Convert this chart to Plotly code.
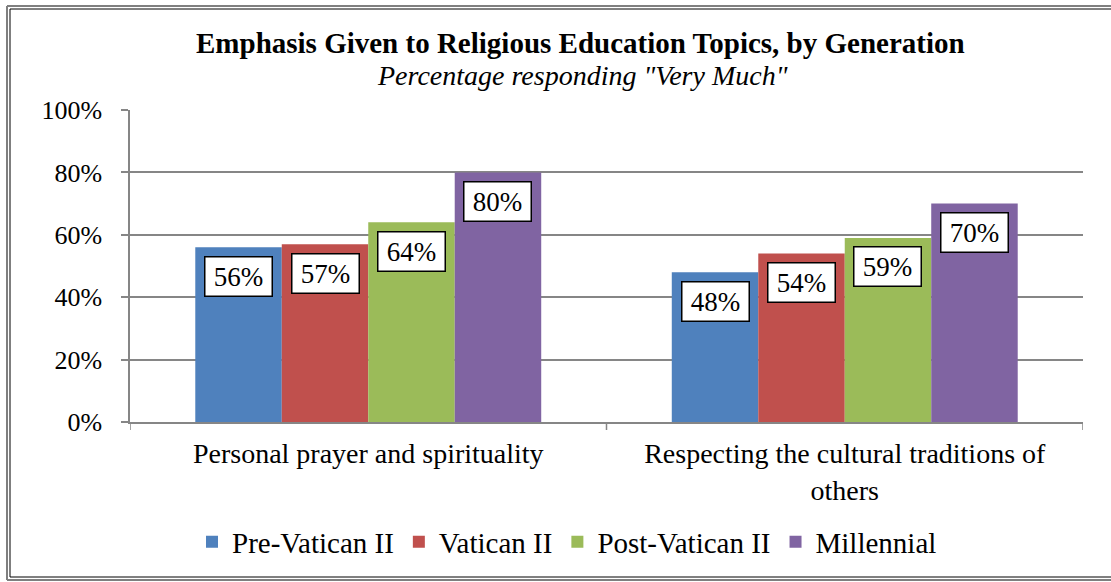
import plotly.graph_objects as go

categories = ["Personal prayer and spirituality", "Respecting the cultural traditions of<br>others"]
series_names = ["Pre-Vatican II", "Vatican II", "Post-Vatican II", "Millennial"]
values = {
    "Pre-Vatican II": [56, 48],
    "Vatican II": [57, 54],
    "Post-Vatican II": [64, 59],
    "Millennial": [80, 70],
}
colors = ["#4F81BD", "#C0504D", "#9BBB59", "#8064A2"]
y_ticks = [0, 20, 40, 60, 80, 100]
y_tick_labels = ["0%", "20%", "40%", "60%", "80%", "100%"]

FONT = "Liberation Serif, Times New Roman, serif"
W, H = 1111, 582
ML, MR, MT, MB = 130, 28, 110, 160
BARGAP = 0.274

fig = go.Figure()
for name, col in zip(series_names, colors):
    fig.add_trace(go.Bar(name=name, x=list(range(len(categories))), y=values[name],
                         marker=dict(color=col, line=dict(width=0))))

# data labels in white boxes
n = len(series_names)
bw = (1 - BARGAP) / n
for i, name in enumerate(series_names):
    for j, v in enumerate(values[name]):
        fig.add_annotation(x=j + (i - (n - 1) / 2) * bw, y=v, xref="x", yref="y",
                           text=f"{v}%", showarrow=False, yanchor="middle", yshift=-29,
                           bgcolor="white", bordercolor="black", borderwidth=1.5,
                           borderpad=3, width=60, height=32,
                           font=dict(family=FONT, size=27, color="black"))

pw = W - ML - MR
ph = H - MT - MB
def px(x):
    return (x - ML) / pw
def py(y):
    return (H - MB - y) / ph

# title and subtitle
fig.add_annotation(xref="paper", yref="paper", x=px(580), y=py(43), text="<b>Emphasis Given to Religious Education Topics, by Generation</b>",
                   showarrow=False, font=dict(family=FONT, size=29, color="black"), xanchor="center", yanchor="middle")
fig.add_annotation(xref="paper", yref="paper", x=px(582), y=py(76), text="<i>Percentage responding \"Very Much\"</i>",
                   showarrow=False, font=dict(family=FONT, size=28, color="black"), xanchor="center", yanchor="middle")

# outer double border (left, top, bottom; right side is cut off in the frame)
for (xl, yt, yb, col, lw) in [(7, 6, 580, "#7f7f7f", 2), (10, 9, 577, "black", 1)]:
    fig.add_shape(type="line", xref="paper", yref="paper", x0=px(xl), x1=px(xl), y0=py(yb), y1=py(yt),
                  line=dict(color=col, width=lw))
    fig.add_shape(type="line", xref="paper", yref="paper", x0=px(xl), x1=px(W + 5), y0=py(yt), y1=py(yt),
                  line=dict(color=col, width=lw))
    fig.add_shape(type="line", xref="paper", yref="paper", x0=px(xl), x1=px(W + 5), y0=py(yb), y1=py(yb),
                  line=dict(color=col, width=lw))

fig.update_layout(
    width=W, height=H,
    margin=dict(l=ML, r=MR, t=MT, b=MB),
    paper_bgcolor="white", plot_bgcolor="white",
    barmode="group", bargap=BARGAP, bargroupgap=0,
    font=dict(family=FONT, size=25, color="black"),
    showlegend=True,
    legend=dict(orientation="h", x=px(567), xanchor="center", y=py(542), yanchor="middle",
                font=dict(family=FONT, size=29, color="black"), itemwidth=30, tracegroupgap=0),
    xaxis=dict(type="linear", range=[-0.5, 1.5], tickmode="array", tickvals=[0, 1], ticktext=categories,
               showgrid=False, showline=True, linecolor="#868686", linewidth=1.5,
               ticks="", zeroline=False, tickfont=dict(family=FONT, size=28, color="black"),
               ticklabelstandoff=6),
    yaxis=dict(range=[0, 100], tickmode="array", tickvals=y_ticks, ticktext=y_tick_labels,
               showgrid=True, gridcolor="#868686", gridwidth=1.5, showline=True, linecolor="#868686",
               linewidth=1.5, ticks="outside", ticklen=7, tickcolor="#868686", tickwidth=1.5,
               zeroline=False, tickfont=dict(family=FONT, size=26, color="black"), ticklabelstandoff=14),
)

# category boundary ticks on x axis
for xb in [-0.5, 0.5, 1.5]:
    fig.add_shape(type="line", xref="x", yref="paper", x0=xb, x1=xb, y0=0, y1=py(430),
                  line=dict(color="#868686", width=1.5))

fig.write_html("out.html", config={"displayModeBar": False},
               post_script="document.body.style.margin='0';")
